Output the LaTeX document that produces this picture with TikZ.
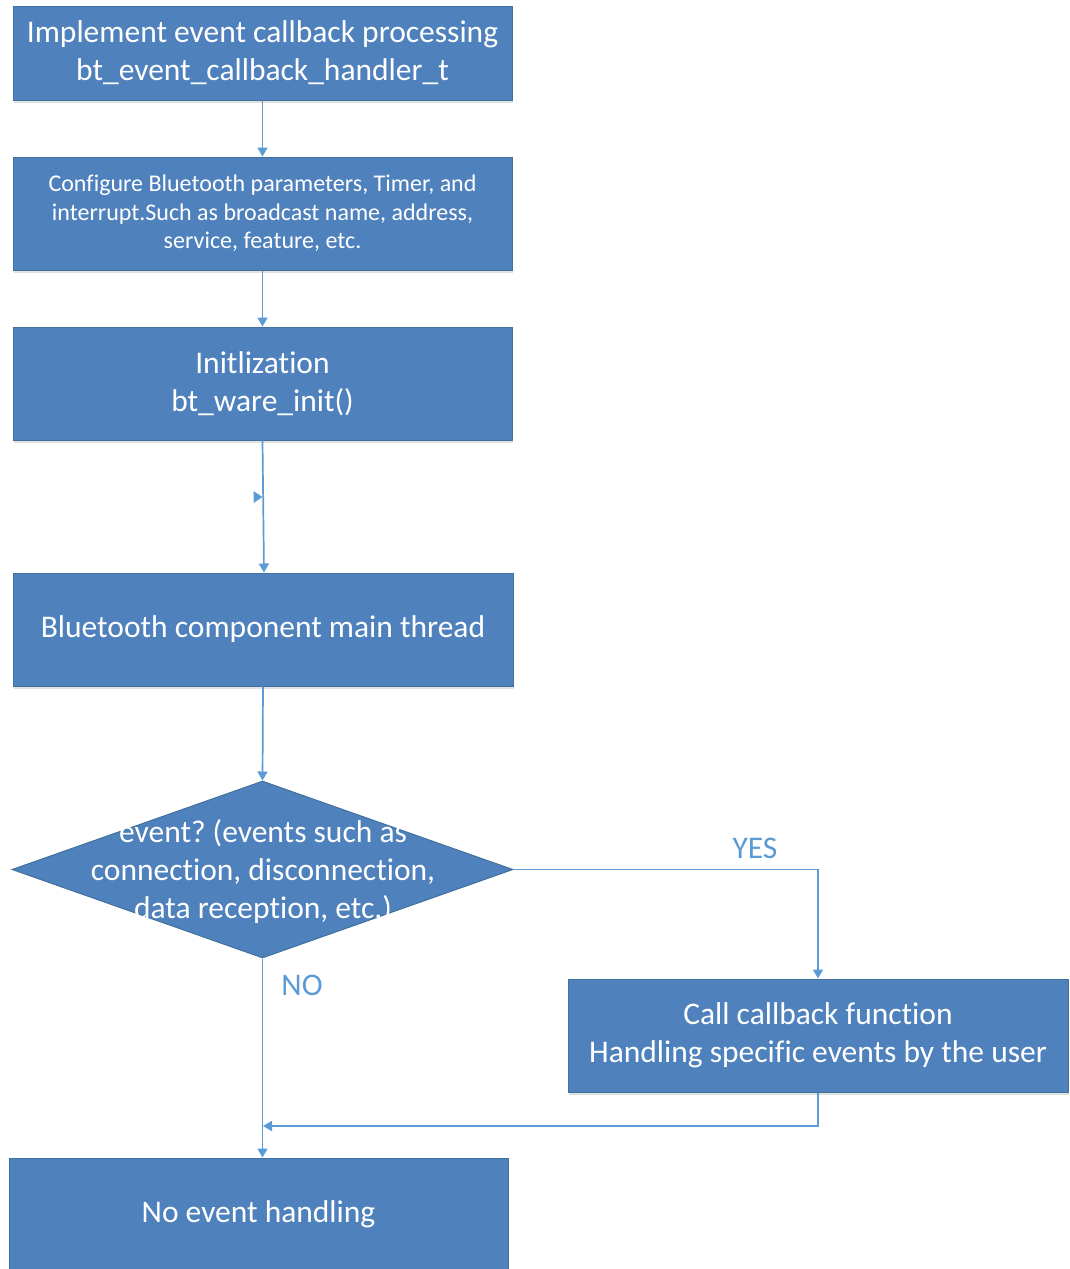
\documentclass[tikz,border=0pt]{standalone}
\usepackage{fontspec}
\setmainfont{Carlito}[RawFeature={-liga;-clig;-calt;-dlig}]
\frenchspacing
\usetikzlibrary{arrows.meta,shapes.geometric,shadows}
\definecolor{boxfill}{HTML}{4F81BD}
\definecolor{boxedge}{HTML}{41719C}
\definecolor{flow}{HTML}{5B9BD5}
\tikzset{
  stepbox/.style={draw=boxedge, line width=1pt, fill=boxfill, text=white,
    minimum width=499pt, minimum height=113pt, inner sep=0pt, align=center,
    font=\fontsize{31.5}{38}\selectfont,
    drop shadow={shadow xshift=1pt, shadow yshift=-3pt, opacity=0.12, fill=black}},
  decision/.style={diamond, draw=boxedge, line width=1pt, fill=boxfill,
    minimum width=501pt, minimum height=177pt, inner sep=0pt},
  flowline/.style={draw=flow, line width=1.7pt,
    -{Triangle[length=9pt,width=10pt]}},
  branch/.style={text=flow, font=\fontsize{31.5}{38}\selectfont}
}
\begin{document}
\begin{tikzpicture}[x=1pt, y=-1pt]
  \useasboundingbox (0,0) rectangle (1070,1269);
  \clip (0,0) rectangle (1070,1269);

  % process steps
  \node[stepbox, minimum height=94pt] (impl) at (262.5,53)
    {Implement event callback processing\\bt\_event\_callback\_handler\_t};
  \node[stepbox, font=\fontsize{24}{28.5}\selectfont] (config) at (262.5,213.5)
    {Configure Bluetooth parameters, Timer, and\\interrupt.Such as broadcast name, address,\\service, feature, etc.};
  \node[stepbox] (init) at (262.5,383.5) {Initlization\\bt\_ware\_init()};
  \node[stepbox, minimum width=500pt] (main) at (263,629.5)
    {Bluetooth component main thread};

  % decision
  \node[decision] (evt) at (262.5,869.5) {};
  \node[text=white, align=center, font=\fontsize{31.5}{38}\selectfont] (evttext) at (263,872)
    {event? (events such as\\connection, disconnection,\\data reception, etc.)};

  \node[stepbox, minimum width=500pt] (cb) at (818,1035.5)
    {Call callback function\\Handling specific events by the user};
  \node[stepbox] (none) at (258.5,1214.5) {No event handling};

  % connectors
  \draw[flowline] (impl.south) -- (config.north);
  \draw[flowline] (config.south) -- (init.north);
  \draw[flowline] (init.south) -- ([xshift=1pt]main.north);
  \coordinate (tip) at (262.5,497);
  \fill[flow] (tip) -- ++(-9,-6) -- ++(0,12) -- cycle;
  \draw[flowline] (main.south) -- (evt.north);

  \coordinate (yesbend) at (818,869.5);
  \draw[flowline] (evt.east) -- (yesbend) -- (cb.north);
  \node[branch] (yes) at (755,848) {YES};

  \draw[flowline] (evt.south) -- (none.north -| evt.south);
  \node[branch] (no) at (302,985) {NO};

  \coordinate (merge) at (263,1126);
  \draw[flowline] (cb.south) |- (merge);
\end{tikzpicture}
\end{document}
